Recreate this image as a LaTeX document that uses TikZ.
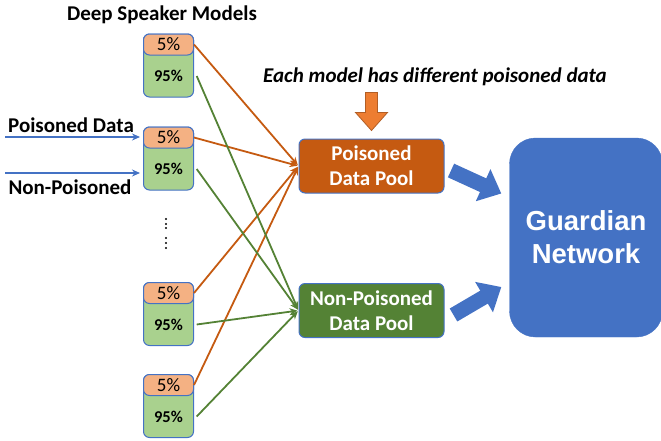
\documentclass[tikz,border=0pt]{standalone}
\usepackage{fontspec}
\setmainfont{Carlito}
\newfontfamily\arialfont{Liberation Sans}
\usetikzlibrary{arrows.meta,positioning}

\definecolor{accblue}{HTML}{4472C4}
\definecolor{poisonorange}{HTML}{C55A11}
\definecolor{cleangreen}{HTML}{548235}
\definecolor{lightorange}{HTML}{F4B183}
\definecolor{lightgreen}{HTML}{A9D18E}
\definecolor{noteorange}{HTML}{ED7D31}

\begin{document}
\begin{tikzpicture}[x=1pt,y=-1pt,shorten >=1pt,
	model/.style={draw=accblue,line width=1pt,fill=lightgreen,rounded corners=6pt,minimum width=50pt,minimum height=63pt,inner sep=0pt},
	share/.style={draw=accblue,line width=1pt,fill=lightorange,rounded corners=6pt,minimum width=50pt,minimum height=21pt,inner sep=0pt,anchor=north,font=\fontsize{19}{19}\selectfont},
	rest/.style={minimum width=50pt,inner sep=0pt,font=\bfseries\fontsize{16.5}{16.5}\selectfont},
	pool/.style={draw=accblue,line width=1pt,rounded corners=6pt,minimum width=145pt,minimum height=54pt,text=white,align=center,font=\bfseries\fontsize{21}{25}\selectfont},
	feed/.style={-{Stealth[length=8pt,width=7pt]},line width=1.8pt},
	fat/.style={-{Triangle[length=20pt,width=34pt]},line width=15pt,accblue,shorten >=0pt},
	big/.style={font=\bfseries\fontsize{21}{21}\selectfont}]
	\useasboundingbox (0,0) rectangle (661,440);
	\node[big] (title) at (162,15) {Deep Speaker Models};
	\node[big,font=\bfseries\itshape\fontsize{21}{21}\selectfont] (note) at (435,77) {Each model has different poisoned data};
	% speaker models
	\node[model] (m_1) at (168.5,65.5) {};
	\node[share] (f_1) at (m_1.north) {5\%};
	\node[rest] (n_1) [below=10.5pt of m_1.center,anchor=center] {95\%};
	\node[model] (m_2) at (168.5,158.5) {};
	\node[share] (f_2) at (m_2.north) {5\%};
	\node[rest] (n_2) [below=10.5pt of m_2.center,anchor=center] {95\%};
	\node[model] (m_3) at (168.5,314) {};
	\node[share] (f_3) at (m_3.north) {5\%};
	\node[rest] (n_3) [below=10.5pt of m_3.center,anchor=center] {95\%};
	\node[model] (m_4) at (168.5,406) {};
	\node[share] (f_4) at (m_4.north) {5\%};
	\node[rest] (n_4) [below=10.5pt of m_4.center,anchor=center] {95\%};
	\fill (166,219) circle (1.2) (166,224) circle (1.2) (166,228) circle (1.2)
		(166,238) circle (1.2) (166,243) circle (1.2) (166,248) circle (1.2);
	% pools and guardian
	\node[pool,fill=poisonorange] (pp) at (371.5,166) {Poisoned\\Data Pool};
	\node[pool,fill=cleangreen] (np) at (371.5,310.5) {Non-Poisoned\\Data Pool};
	\node[draw=accblue,fill=accblue,rounded corners=26pt,minimum width=153pt,minimum height=199pt,text=white,align=center,
		font=\arialfont\bfseries\fontsize{27.5}{33}\selectfont] (gn) at (586,237.5) {Guardian\\Network};
	% inputs
	\coordinate (in_p) at (5,137);
	\coordinate (in_n) at (5,173);
	\draw[feed,accblue,shorten >=3pt] (in_p) -- node[above=0pt,xshift=-3pt,big,text=black] {Poisoned Data} (in_p -| m_2.west);
	\draw[feed,accblue,shorten >=3pt] (in_n) -- node[below=3pt,xshift=-4pt,big,text=black] {Non-Poisoned} (in_n -| m_2.west);
	\draw[noteorange!75!black,fill=noteorange,line width=0.8pt,shift={(pp.north)}]
		(-6,-46) -- (6,-46) -- (6,-26) -- (16,-26) -- (0,-8) -- (-16,-26) -- (-6,-26) -- cycle;
	\path[feed]
		(f_1.east) edge[poisonorange] (pp.west)
		(f_2.east) edge[poisonorange] (pp.west)
		(f_3.east) edge[poisonorange] (pp.west)
		(f_4.east) edge[poisonorange] (pp.west)
		([xshift=3pt]n_1.east) edge[cleangreen] (np.west)
		([xshift=3pt]n_2.east) edge[cleangreen] (np.west)
		([xshift=3pt]n_3.east) edge[cleangreen] (np.west)
		([xshift=3pt]n_4.east) edge[cleangreen] (np.west);
	\draw[fat] ([xshift=6.5pt,yshift=-4.5pt]pp.east) -- ([xshift=-8pt,yshift=44pt]gn.west);
	\draw[fat] ([xshift=9pt,yshift=-4.5pt]np.east) -- ([xshift=-8pt,yshift=-49.5pt]gn.west);
\end{tikzpicture}
\end{document}
